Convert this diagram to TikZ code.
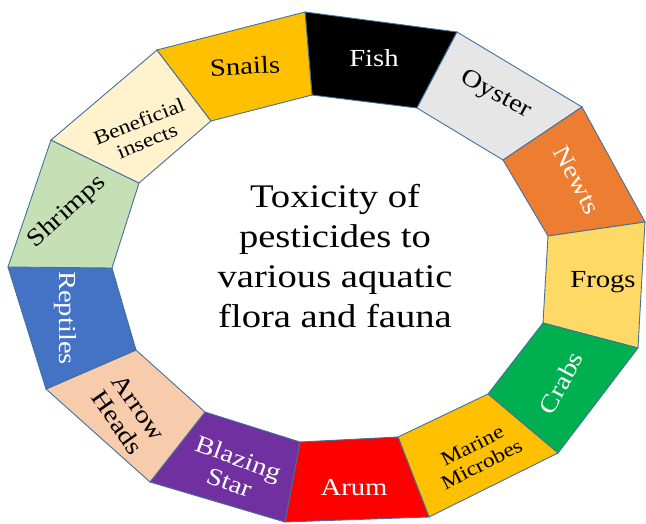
\documentclass[tikz,border=0pt]{standalone}
\usepackage{fontspec}
\setmainfont[FakeStretch=1.17]{Liberation Serif}

\definecolor{bordo}{HTML}{41719C}
\definecolor{fishc}{HTML}{000000}
\definecolor{oysterc}{HTML}{E7E6E6}
\definecolor{newtsc}{HTML}{ED7D31}
\definecolor{frogsc}{HTML}{FFD966}
\definecolor{crabsc}{HTML}{00B050}
\definecolor{marinec}{HTML}{FFC000}
\definecolor{arumc}{HTML}{FF0000}
\definecolor{blazingc}{HTML}{7030A0}
\definecolor{arrowc}{HTML}{F8CBAD}
\definecolor{reptilesc}{HTML}{4472C4}
\definecolor{shrimpsc}{HTML}{C5E0B4}
\definecolor{beneficialc}{HTML}{FFF2CC}
\definecolor{snailsc}{HTML}{FFC000}

\begin{document}
\begin{tikzpicture}[
        x=1pt, y=-1pt,
        settore/.style={
            draw=bordo,
            line width=0.9pt,
            line join=miter
        },
        etichetta/.style={
            align=center,
            inner sep=0pt,
            font=\fontsize{24.5}{26}\selectfont
        },
        grande/.style={},
        piccola/.style={
            font=\fontsize{20}{21}\selectfont
        },
        centro/.style={
            align=center,
            inner sep=0pt,
            font=\fontsize{33}{40}\selectfont
        }
    ]
        \useasboundingbox (0,0) rectangle (646,523);

        % Vertici esterni e interni dell'anello
        \foreach \x/\y [count=\i] in {305/12, 457/32, 582/107, 645/222, 638/348, 558/453, 429/517,
                                      285/522, 150/482, 46/389, 8/267, 51/140, 157/50} {
            \coordinate (out\i) at (\x,\y);
        }
        \foreach \x/\y [count=\i] in {312/95, 417/108, 503/160, 548/236, 543/323, 488/394, 398/437,
                                      300/442, 205/412, 136/350, 112/268, 139/183, 211/121} {
            \coordinate (in\i) at (\x,\y);
        }

        % Settori colorati
        \foreach \i/\colore [evaluate=\i as \nexti using {int(mod(\i,13)+1)}] in {1/fishc, 2/oysterc,
                3/newtsc, 4/frogsc, 5/crabsc, 6/marinec, 7/arumc, 8/blazingc, 9/arrowc,
                10/reptilesc, 11/shrimpsc, 12/beneficialc, 13/snailsc} {
            \filldraw[settore, fill=\colore] (out\i) -- (out\nexti) -- (in\nexti) -- (in\i) -- cycle;
        }

        % Etichette dei settori
        \foreach \testo/\x/\y/\r/\c/\f [count=\i] in {
                Fish/374/58/0/white/grande,
                Oyster/496/95/-28/black/grande,
                Newts/577/180/-62/white/grande,
                Frogs/603/282/0/black/grande,
                Crabs/561/383/62/white/grande,
                {Marine\\Microbes}/477/455/27/black/piccola,
                Arum/354/488/0/white/grande,
                {Blazing\\Star}/234/470/-20/white/grande,
                {Arrow\\Heads}/128/415/-55/black/grande,
                Reptiles/65/318/-90/white/grande,
                Shrimps/67/212/42/black/grande,
                {Beneficial\\insects}/143/131/22/black/piccola,
                Snails/245/66/3/black/grande} {
            \node[etichetta, \f, text=\c, rotate=\r] (et\i) at (\x,\y) {\testo};
        }

        % Titolo centrale
        \node[centro] (titolo) at (335,256) {Toxicity of\\pesticides to\\various aquatic\\flora and fauna};
\end{tikzpicture}
\end{document}
